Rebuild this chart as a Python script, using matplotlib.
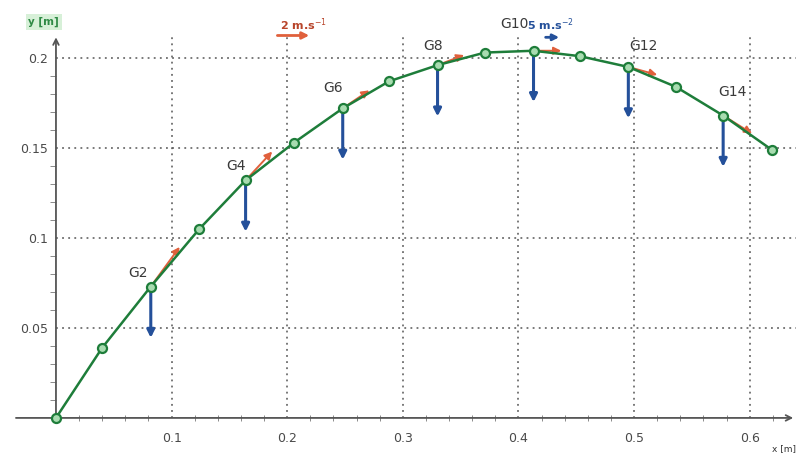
import matplotlib
matplotlib.use("Agg")
import matplotlib.pyplot as plt
from matplotlib.ticker import FixedLocator

# positions of the centre of mass G0..G15 (m)
x_pos = [0.0, 0.040, 0.082, 0.124, 0.164, 0.206, 0.248, 0.288,
         0.330, 0.371, 0.413, 0.453, 0.495, 0.536, 0.577, 0.619]
y_pos = [0.0, 0.039, 0.073, 0.105, 0.132, 0.153, 0.172, 0.187,
         0.196, 0.203, 0.204, 0.201, 0.195, 0.184, 0.168, 0.149]

# points that carry vectors
vec_idx = [2, 4, 6, 8, 10, 12, 14]
vec_labels = ["G2", "G4", "G6", "G8", "G10", "G12", "G14"]
# velocity vectors (drawn length, axis units)
vel_dx = [0.025, 0.023, 0.023, 0.023, 0.024, 0.025, 0.025]
vel_dy = [0.022, 0.016, 0.010, 0.0056, 0.0, -0.0044, -0.010]
# acceleration vectors (drawn length, axis units)
acc_dy = [-0.0285, -0.0285, -0.0285, -0.0285, -0.0285, -0.0285, -0.0285]

x_ticks = [0.1, 0.2, 0.3, 0.4, 0.5, 0.6]
x_tick_labels = ["0.1", "0.2", "0.3", "0.4", "0.5", "0.6"]
y_ticks = [0.05, 0.1, 0.15, 0.2]
y_tick_labels = ["0.05", "0.1", "0.15", "0.2"]

# label offsets in points (style only)
label_off = [(-9, 10), (-7, 10), (-7, 15), (-3, 14), (-14, 19), (11, 15), (7, 17)]

green = "#1e7d3a"
blue = "#24509a"
red = "#e0603c"
grey = "#4a4a4a"

fig = plt.figure(figsize=(7.96, 4.55), dpi=100)
ax = fig.add_axes([0, 0, 1, 1])
ax.set_xlim(-0.0484, 0.640)
ax.set_ylim(-0.0206, 0.2322)

for s in ax.spines.values():
    s.set_visible(False)
ax.spines["bottom"].set_position(("data", 0))
ax.spines["left"].set_position(("data", 0))

# dotted grid, only in the first quadrant
ax.vlines(x_ticks, 0, 0.2128, colors="#555555", linestyles=(0, (1.2, 2.8)), lw=1.1, zorder=1)
ax.hlines(y_ticks, 0, 0.640, colors="#555555", linestyles=(0, (1.2, 2.8)), lw=1.1, zorder=1)

# axes with arrows
ax.annotate("", xy=(0.640, 0), xytext=(-0.037, 0),
            arrowprops=dict(arrowstyle="->", color="#555555", lw=1.3), zorder=2)
ax.annotate("", xy=(0, 0.213), xytext=(0, 0),
            arrowprops=dict(arrowstyle="->", color="#555555", lw=1.3), zorder=2)

ax.xaxis.set_major_locator(FixedLocator(x_ticks))
ax.set_xticklabels(x_tick_labels)
ax.xaxis.set_minor_locator(FixedLocator([k / 100 for k in range(2, 64, 2)]))
ax.yaxis.set_major_locator(FixedLocator(y_ticks))
ax.set_yticklabels(y_tick_labels)
ax.yaxis.set_minor_locator(FixedLocator([k / 100 for k in range(1, 21)]))
ax.tick_params(axis="x", which="major", length=0, pad=10, labelsize=9, labelcolor=grey)
ax.tick_params(axis="x", which="minor", direction="inout", length=5, color="#777777")
ax.tick_params(axis="y", which="major", length=0, pad=6, labelsize=9, labelcolor=grey)
ax.tick_params(axis="y", which="minor", direction="out", length=4, color="#777777")

# velocity vectors (red), shaft mostly hidden under the trajectory
for i, dx, dy in zip(vec_idx, vel_dx, vel_dy):
    ax.annotate("", xy=(x_pos[i] + dx, y_pos[i] + dy), xytext=(x_pos[i], y_pos[i]),
                arrowprops=dict(arrowstyle="-|>", color=red, lw=1.4,
                                mutation_scale=11, shrinkA=0, shrinkB=0), zorder=3)

# trajectory
ax.plot(x_pos, y_pos, color=green, lw=1.8, zorder=4)
ax.plot(x_pos, y_pos, "o", ms=6.5, mfc="#a8dcb0", mec=green, mew=1.6, zorder=5)

# acceleration vectors (blue)
for i, dy in zip(vec_idx, acc_dy):
    ax.annotate("", xy=(x_pos[i], y_pos[i] + dy), xytext=(x_pos[i], y_pos[i]),
                arrowprops=dict(arrowstyle="-|>", color=blue, lw=2.2,
                                mutation_scale=11, shrinkA=0, shrinkB=0), zorder=3)

# point labels
for i, lab, off in zip(vec_idx, vec_labels, label_off):
    ax.annotate(lab, (x_pos[i], y_pos[i]), xytext=off, textcoords="offset points",
                ha="center", va="center", fontsize=10, color="#3a3a3a")

# scale legends
ax.text(0.352, 0.945, "2 m.s$^{-1}$", transform=ax.transAxes, color="#b8442a",
        fontsize=8, fontweight="bold", ha="left", va="center")
ax.annotate("", xy=(0.392, 0.922), xytext=(0.345, 0.922), xycoords="axes fraction",
            arrowprops=dict(arrowstyle="-|>", color=red, lw=2, mutation_scale=10))
ax.text(0.662, 0.945, "5 m.s$^{-2}$", transform=ax.transAxes, color=blue,
        fontsize=8, fontweight="bold", ha="left", va="center")
ax.annotate("", xy=(0.706, 0.918), xytext=(0.682, 0.918), xycoords="axes fraction",
            arrowprops=dict(arrowstyle="-|>", color=blue, lw=2, mutation_scale=9))

# axis names
ax.text(0.055, 0.952, "y [m]", transform=ax.transAxes, color="#2f8a45", fontsize=7.5,
        fontweight="bold", ha="center", va="center",
        bbox=dict(boxstyle="square,pad=0.25", fc="#d7f0d8", ec="none"))
ax.text(0.985, 0.015, "x [m]", transform=ax.transAxes, color="#333333", fontsize=6.5,
        ha="center", va="center")

fig.savefig("out.png", dpi=100)
